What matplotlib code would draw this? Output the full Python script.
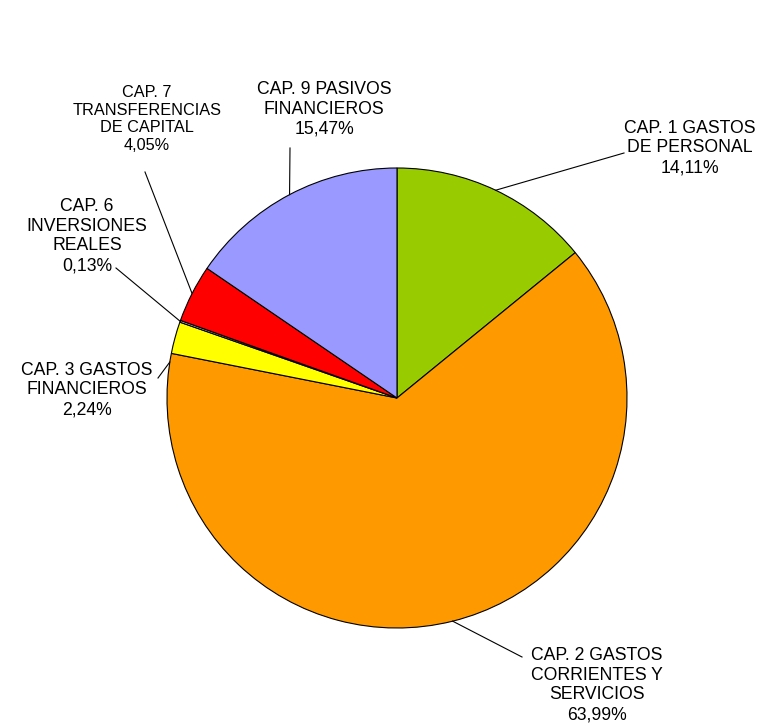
import numpy as np
import matplotlib
matplotlib.use('Agg')
import matplotlib.pyplot as plt

plt.rcParams['font.family'] = ['Liberation Sans', 'DejaVu Sans']

labels = ['CAP. 1 GASTOS\nDE PERSONAL', 'CAP. 2 GASTOS\nCORRIENTES Y\nSERVICIOS',
          'CAP. 3 GASTOS\nFINANCIEROS', 'CAP. 6\nINVERSIONES\nREALES',
          'CAP. 7\nTRANSFERENCIAS\nDE CAPITAL', 'CAP. 9 PASIVOS\nFINANCIEROS']
values = [14.11, 63.99, 2.24, 0.13, 4.05, 15.47]
colors = ['#99CC00', '#FF9900', '#FFFF00', '#99CCFF', '#FF0000', '#9999FF']

# label centres and leader elbows in pixel coords (y measured from top)
label_pos = [(690, 148), (597, 685), (87, 390), (87, 236), (147, 119), (324, 109)]
elbows = [(624, 153), (522, 657), (158, 378), (116, 268), (145, 172), (290, 148)]
label_size = [12.7, 12.7, 12.7, 12.7, 11.7, 12.7]

W, H = 760, 726
cx, cy, R = 397, 398, 230

fig = plt.figure(figsize=(W / 100, H / 100), dpi=100)
ax = fig.add_axes([0, 0, 1, 1])

wedges, _ = ax.pie(values, colors=colors, startangle=90, counterclock=False,
                   center=(cx, H - cy), radius=R,
                   wedgeprops=dict(edgecolor='black', linewidth=0.8))
ax.set_xlim(0, W)
ax.set_ylim(0, H)
ax.set_aspect('equal')
ax.axis('off')

total = sum(values)
cum = 0
for i, v in enumerate(values):
    mid = cum + v / 2
    cum += v
    ang = np.deg2rad(90 - mid / total * 360)
    if i == 2:
        ang = np.deg2rad(171)
    ex, ey = cx + R * np.cos(ang), (H - cy) + R * np.sin(ang)
    bx, by = elbows[i]
    ax.plot([ex, bx], [ey, H - by], color='black', lw=0.8)
    txt = labels[i] + '\n' + f'{v:.2f}%'.replace('.', ',')
    lx, ly = label_pos[i]
    ax.text(lx, H - ly, txt, ha='center', va='center', fontsize=label_size[i],
            linespacing=1.22)

fig.savefig('out.png', dpi=100)
